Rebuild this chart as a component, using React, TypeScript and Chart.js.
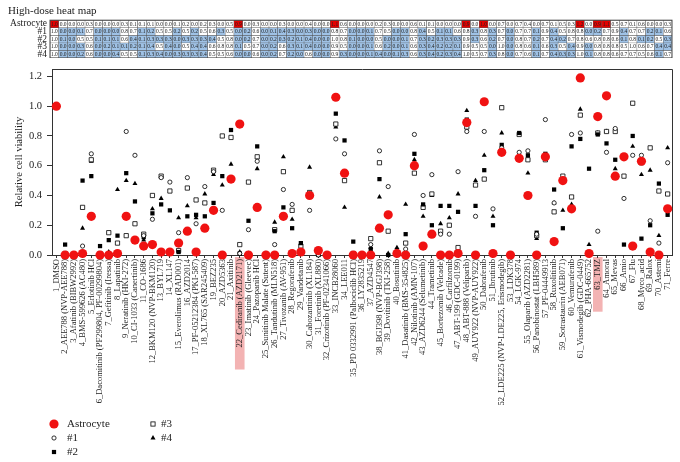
import React, { useEffect, useRef } from 'react';
import { Chart, registerables } from 'chart.js';

Chart.register(...registerables);

const FONT = '"Liberation Serif", "Times New Roman", serif';

const drugLabels = [
  '1_DMSO', '2_AEE788 (NVP-AEE788)', '3_Afatinib (BIBW2992)', '4_BMS-599626 (AC480)', '5_Erlotinib HCl',
  '6_Dacomitinib (PF299804, PF-00299804)', '7_Gefitinib (Iressa)', '8_Lapatinib', '9_Neratinib (HKI-272)',
  '10_CI-1033 (Canertinib)', '11_CO-1686', '12_BKM120 (NVP-BKM120)', '13_BYL719', '14_XL147',
  '15_Everolimus (RAD001)', '16_AZD2014', '17_PF-05212384 (PKI-587)', '18_XL765 (SAR245409)', '19_BEZ235',
  '20_AZD5363', '21_Axitinib', '22_Cediranib (AZD2171)', '23_Imatinib (Gleevec)', '24_Pazopanib HCl',
  '25_Sunitinib Malate (Sutent)', '26_Tandutinib (MLN518)', '27_Tivozanib (AV-951)', '28_Regorafenib',
  '29_Vandetanib', '30_Cabozantinib (XL184)', '31_Foretinib (XL880)', '32_Crizotinib (PF-02341066)',
  '33_INCB28060', '34_LEE011', '35_PD 0332991 (Palbociclib HCl)', '36_LY2835219', '37_AZD4547',
  '38_BGJ398 (NVP-BGJ398)', '39_Dovitinib (TKI-258)', '40_Bosutinib', '41_Dasatinib (BMS-354825)',
  '42_Nilotinib (AMN-107)', '43_AZD6244 (Selumetinib)', '44_Trametinib', '45_Bortezomib (Velcade)',
  '46_Carfilzomib', '47_ABT-199 (GDC-0199)', '48_ABT-888 (Veliparib)', '49_AUY922 (NVP-AUY922)',
  '50_Dabrafenib', '51_Ibrutinib', '52_LDE225 (NVP-LDE225, Erismodegib)', '53_LDK378', '54_LGK-974',
  '55_Olaparib (AZD2281)', '56_Panobinostat (LBH589)', '57_PF-04449913', '58_Ruxolitinib',
  '59_Sotrastaurin (AEB071)', '60_Vemurafenib', '61_Vismodegib (GDC-0449)', '62_PHA-665752', '63_TMZ',
  '64_Amoral', '65_Mevas', '66_Amio', '67_Flu', '68_Myco_acid', '69_Ralox', '70_Astemi', '71_Ferre',
];

const astrocyte = [
  1.00, 0.00, 0.00, 0.01, 0.26, 0.00, 0.00, 0.01, 0.26, 0.10,
  0.06, 0.07, 0.02, 0.02, 0.08, 0.16, 0.02, 0.18, 0.30, 0.00,
  0.51, 0.88, 0.00, 0.32, 0.00, 0.00, 0.26, 0.01, 0.02, 0.40,
  0.03, 0.00, 1.06, 0.55, 0.00, 0.00, 0.00, 0.18, 0.27, 0.01,
  0.00, 0.60, 0.06, 0.14, 0.00, 0.00, 0.01, 0.89, 0.00, 1.03,
  0.01, 0.69, 0.00, 0.65, 0.40, 0.00, 0.66, 0.09, 0.50, 0.31,
  1.19, 0.01, 0.93, 1.07, 0.53, 0.66, 0.06, 0.63, 0.02, 0.00,
  0.31,
];
const tumor1 = [
  1.00, 0.00, 0.00, 0.06, 0.68, 0.00, 0.01, 0.01, 0.83, 0.67,
  0.13, 0.24, 0.52, 0.49, 0.15, 0.52, 0.21, 0.46, 0.56, 0.30,
  0.50, 0.01, 0.17, 0.63, 0.00, 0.07, 0.44, 0.34, 0.01, 0.30,
  0.00, 0.00, 0.78, 0.68, 0.00, 0.00, 0.07, 0.70, 0.46, 0.01,
  0.04, 0.81, 0.40, 0.54, 0.14, 0.14, 0.56, 0.83, 0.26, 0.83,
  0.31, 0.72, 0.00, 0.69, 0.70, 0.14, 0.91, 0.35, 0.51, 0.81,
  0.82, 0.01, 0.16, 0.69, 0.85, 0.38, 0.67, 0.67, 0.23, 0.08,
  0.62,
];
const tumor2 = [
  1.00, 0.07, 0.00, 0.50, 0.53, 0.06, 0.10, 0.13, 0.55, 0.36,
  0.12, 0.28, 0.34, 0.30, 0.02, 0.26, 0.27, 0.26, 0.35, 0.53,
  0.84, 0.01, 0.23, 0.73, 0.01, 0.16, 0.32, 0.18, 0.08, 0.41,
  0.00, 0.00, 0.95, 0.77, 0.09, 0.00, 0.04, 0.51, 0.00, 0.01,
  0.14, 0.68, 0.34, 0.20, 0.33, 0.33, 0.29, 0.91, 0.33, 0.57,
  0.20, 0.74, 0.00, 0.82, 0.67, 0.15, 0.68, 0.44, 0.18, 0.73,
  0.78, 0.58, 0.81, 0.75, 0.64, 0.07, 0.80, 0.11, 0.20, 0.48,
  0.27,
];
const tumor3 = [
  1.00, 0.01, 0.00, 0.32, 0.64, 0.01, 0.15, 0.08, 0.13, 0.21,
  0.14, 0.40, 0.53, 0.43, 0.03, 0.45, 0.37, 0.35, 0.57, 0.80,
  0.79, 0.07, 0.49, 0.66, 0.00, 0.17, 0.56, 0.30, 0.06, 0.42,
  0.01, 0.00, 0.88, 0.50, 0.01, 0.00, 0.11, 0.62, 0.16, 0.02,
  0.08, 0.55, 0.32, 0.41, 0.16, 0.20, 0.05, 0.86, 0.47, 0.51,
  0.01, 0.99, 0.00, 0.81, 0.64, 0.13, 0.64, 0.29, 0.53, 0.39,
  0.94, 0.01, 0.82, 0.83, 0.83, 0.53, 1.02, 0.62, 0.72, 0.43,
  0.41,
];
const tumor4 = [
  1.00, 0.00, 0.00, 0.18, 0.63, 0.00, 0.02, 0.44, 0.50, 0.48,
  0.10, 0.31, 0.38, 0.02, 0.25, 0.33, 0.25, 0.41, 0.54, 0.47,
  0.61, 0.02, 0.01, 0.58, 0.01, 0.22, 0.66, 0.24, 0.01, 0.59,
  0.00, 0.00, 0.86, 0.32, 0.00, 0.00, 0.05, 0.39, 0.01, 0.05,
  0.34, 0.64, 0.26, 0.40, 0.21, 0.25, 0.41, 0.97, 0.50, 0.67,
  0.26, 0.82, 0.00, 0.65, 0.55, 0.11, 0.66, 0.35, 0.30, 0.34,
  0.98, 0.07, 0.82, 0.83, 0.58, 0.66, 0.73, 0.54, 0.57, 0.13,
  0.72,
];

const seriesNames = ['Astrocyte', '#1', '#2', '#3', '#4'];
const highlightedLabels = ['22_Cediranib (AZD2171)', '63_TMZ'];
const heatTitle = 'High-dose heat map';
const yAxisTitle = 'Relative cell viability';

const allSeries = [astrocyte, tumor1, tumor2, tumor3, tumor4];
const round1 = (v: number) => Math.round(v * 10) / 10;

function cellColor(row: number, v: number) {
  const r = round1(v);
  if (row === 0) return r >= 0.85 ? '#e60000' : '#ffffff';
  return r < 0.5 ? '#9fc2e6' : '#ffffff';
}

const RED = 'rgb(240,18,18)';

function drawMarker(ctx: CanvasRenderingContext2D, kind: number, x: number, y: number) {
  ctx.save();
  ctx.lineWidth = 0.8;
  ctx.strokeStyle = '#000';
  ctx.fillStyle = '#000';
  if (kind === 0) {
    ctx.fillStyle = RED;
    ctx.beginPath(); ctx.arc(x, y, 4.6, 0, Math.PI * 2); ctx.fill();
  } else if (kind === 1) {
    ctx.fillStyle = '#fff';
    ctx.beginPath(); ctx.arc(x, y, 2.1, 0, Math.PI * 2); ctx.fill(); ctx.stroke();
  } else if (kind === 2) {
    ctx.fillRect(x - 2.1, y - 2.1, 4.2, 4.2);
  } else if (kind === 3) {
    ctx.fillStyle = '#fff';
    ctx.fillRect(x - 2.1, y - 2.1, 4.2, 4.2);
    ctx.strokeRect(x - 2.1, y - 2.1, 4.2, 4.2);
  } else {
    ctx.beginPath();
    ctx.moveTo(x, y - 2.9);
    ctx.lineTo(x + 2.5, y + 1.45);
    ctx.lineTo(x - 2.5, y + 1.45);
    ctx.closePath(); ctx.fill();
  }
  ctx.restore();
}

export default function App() {
  const heatRef = useRef<HTMLCanvasElement>(null);
  const scatRef = useRef<HTMLCanvasElement>(null);

  useEffect(() => {
    if (!heatRef.current || !scatRef.current) return;

    const heatText = {
      id: 'heatText',
      afterDatasetsDraw(chart: any) {
        const ctx = chart.ctx;
        ctx.save();
        ctx.font = `5.5px ${FONT}`;
        ctx.fillStyle = '#222';
        ctx.textAlign = 'center';
        ctx.textBaseline = 'middle';
        chart.data.datasets.forEach((ds: any, di: number) => {
          const meta = chart.getDatasetMeta(di);
          meta.data.forEach((el: any, i: number) => {
            const v = allSeries[di][i];
            ctx.fillText(round1(v).toFixed(1), el.x, (el.y + el.base) / 2 + 0.3);
          });
        });
        const { left, right, top, bottom } = chart.chartArea;
        ctx.strokeStyle = '#444';
        ctx.lineWidth = 1;
        ctx.strokeRect(left, top, right - left, bottom - top);
        ctx.restore();
      },
    };

    const heat = new Chart(heatRef.current, {
      type: 'bar',
      data: {
        labels: drugLabels,
        datasets: allSeries.map((vals, r) => ({
          label: seriesNames[r],
          data: vals.map(() => [4 - r, 5 - r]),
          backgroundColor: vals.map((v) => cellColor(r, v)),
          borderColor: '#555',
          borderWidth: 0.5,
          borderSkipped: false,
          grouped: false,
          barPercentage: 1,
          categoryPercentage: 1,
        })) as any,
      },
      options: {
        animation: false,
        responsive: false,
        layout: { padding: { left: 8, right: 8, top: 0, bottom: 0 } },
        plugins: {
          legend: { display: false },
          tooltip: { enabled: false },
          title: {
            display: true,
            text: heatTitle,
            align: 'start',
            color: '#222',
            font: { family: FONT, size: 11, weight: 'normal' },
            padding: { top: 5, bottom: 2 },
          },
        },
        scales: {
          x: { type: 'category', display: false, offset: true },
          y: {
            type: 'linear',
            min: 0,
            max: 5,
            grid: { display: false, drawTicks: false },
            border: { display: false },
            afterBuildTicks: (s: any) => {
              s.ticks = [4.5, 3.5, 2.5, 1.5, 0.5].map((v) => ({ value: v }));
            },
            afterFit: (s: any) => {
              s.width = 42;
              s.paddingTop = 0;
              s.paddingBottom = 0;
            },
            ticks: {
              autoSkip: false,
              padding: 3,
              color: '#222',
              font: { family: FONT, size: 9.5 },
              callback: (v: any) => seriesNames[Math.round(4.5 - Number(v))],
            },
          },
        },
      } as any,
      plugins: [heatText],
    });

    const scatPlugin = {
      id: 'scatDeco',
      beforeDraw(chart: any) {
        const ctx = chart.ctx;
        const xs = chart.scales.x;
        ctx.save();
        ctx.font = `8.5px ${FONT}`;
        highlightedLabels.forEach((lab) => {
          const idx = drugLabels.indexOf(lab);
          if (idx < 0) return;
          const px = xs.getPixelForValue(idx);
          const w = ctx.measureText(lab).width;
          ctx.fillStyle = '#f3b3b3';
          ctx.fillRect(px - 4.8, chart.chartArea.bottom + 2, 9.6, w + 24);
        });
        ctx.restore();
      },
      beforeDatasetsDraw(chart: any) {
        const { left, right, top, bottom } = chart.chartArea;
        const ctx = chart.ctx;
        ctx.save();
        ctx.strokeStyle = '#333';
        ctx.lineWidth = 1;
        ctx.beginPath();
        ctx.moveTo(Math.round(left) + 0.5, Math.round(top) + 0.5);
        ctx.lineTo(Math.round(right) + 0.5, Math.round(top) + 0.5);
        ctx.lineTo(Math.round(right) + 0.5, Math.round(bottom) + 0.5);
        ctx.stroke();
        ctx.restore();
      },
      afterDraw(chart: any) {
        const ctx = chart.ctx;
        ctx.save();
        ctx.font = `11px ${FONT}`;
        ctx.fillStyle = '#222';
        ctx.textBaseline = 'middle';
        ctx.textAlign = 'left';
        const pos = [
          [54, 424, 67], [54, 438, 67], [54, 452, 67], [153, 424, 161], [153, 438, 161],
        ];
        seriesNames.forEach((name, k) => {
          const [mx, my, tx] = pos[k];
          drawMarker(ctx, k, mx, my);
          ctx.fillStyle = '#222';
          ctx.fillText(name, tx, my + 0.5);
        });
        ctx.restore();
      },
    };

    const styles = [
      { pointStyle: 'circle', pointRadius: 4.6, backgroundColor: RED, borderColor: RED, borderWidth: 0 },
      { pointStyle: 'circle', pointRadius: 2.1, backgroundColor: '#fff', borderColor: '#000', borderWidth: 0.8 },
      { pointStyle: 'rect', pointRadius: 3, backgroundColor: '#000', borderColor: '#000', borderWidth: 0 },
      { pointStyle: 'rect', pointRadius: 3, backgroundColor: '#fff', borderColor: '#000', borderWidth: 0.8 },
      { pointStyle: 'triangle', pointRadius: 2.9, backgroundColor: '#000', borderColor: '#000', borderWidth: 0 },
    ];

    const scat = new Chart(scatRef.current, {
      type: 'line',
      data: {
        labels: drugLabels,
        datasets: allSeries.map((vals, k) => ({
          label: seriesNames[k],
          data: vals,
          showLine: false,
          clip: false,
          order: k,
          pointStyle: styles[k].pointStyle,
          pointRadius: styles[k].pointRadius,
          pointHoverRadius: styles[k].pointRadius,
          pointBackgroundColor: styles[k].backgroundColor,
          pointBorderColor: styles[k].borderColor,
          pointBorderWidth: styles[k].borderWidth,
          backgroundColor: styles[k].backgroundColor,
          borderColor: styles[k].borderColor,
        })) as any,
      },
      options: {
        animation: false,
        responsive: false,
        layout: { padding: { top: 69, right: 8, left: 0, bottom: 0 } },
        plugins: { legend: { display: false }, tooltip: { enabled: false } },
        scales: {
          x: {
            type: 'category',
            offset: true,
            grid: { drawOnChartArea: false, drawTicks: true, tickLength: 3, color: '#333' },
            border: { color: '#333', width: 1 },
            afterFit: (s: any) => { s.height = 207; },
            ticks: {
              autoSkip: false,
              maxRotation: 90,
              minRotation: 90,
              padding: 1,
              color: '#222',
              font: { family: FONT, size: 8.5 },
            },
          },
          y: {
            type: 'linear',
            min: 0,
            max: 1.25,
            grid: { drawOnChartArea: false, drawTicks: true, tickLength: 5, color: '#333' },
            border: { color: '#333', width: 1 },
            afterFit: (s: any) => { s.width = 52; },
            title: {
              display: true,
              text: yAxisTitle,
              color: '#222',
              font: { family: FONT, size: 10.5 },
              padding: { top: 13, bottom: 0 },
            },
            ticks: {
              stepSize: 0.1,
              includeBounds: false,
              padding: 5,
              color: '#222',
              font: { family: FONT, size: 10.5 },
              callback: (v: any) => Number(v).toFixed(1),
            },
          },
        },
      } as any,
      plugins: [scatPlugin],
    });

    return () => {
      heat.destroy();
      scat.destroy();
    };
  }, []);

  return (
    <div style={{ position: 'absolute', left: 0, top: 0, width: 680, height: 462, background: '#fff' }}>
      <canvas ref={scatRef} width={680} height={462} style={{ position: 'absolute', left: 0, top: 0 }} />
      <canvas ref={heatRef} width={680} height={58} style={{ position: 'absolute', left: 0, top: 0 }} />
    </div>
  );
}
